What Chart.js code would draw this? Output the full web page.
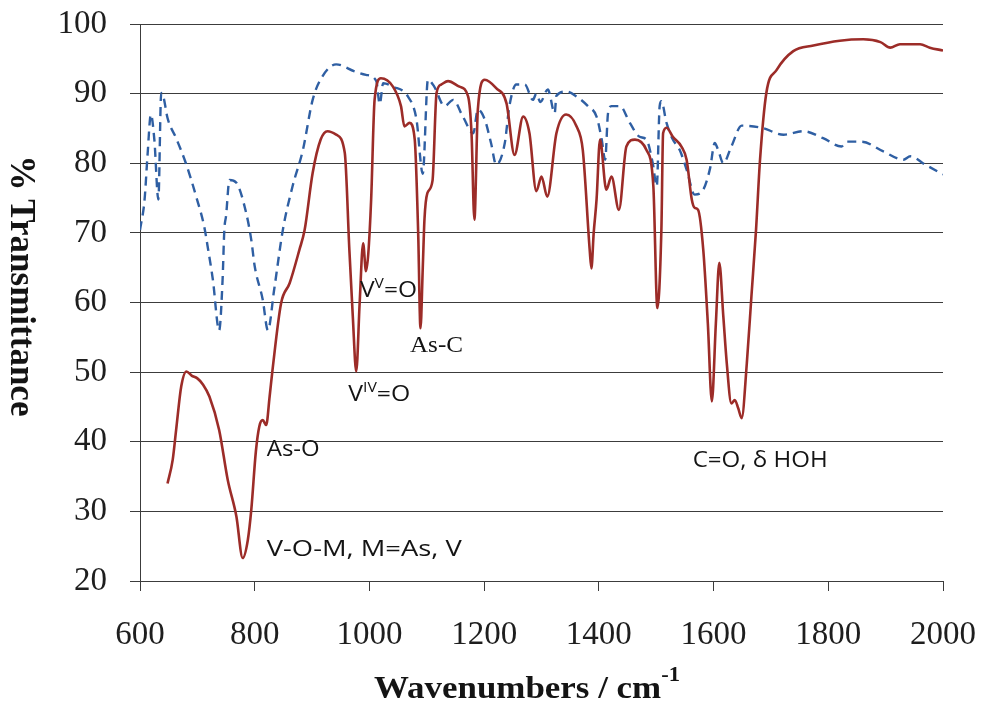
<!DOCTYPE html>
<html>
<head>
<meta charset="utf-8">
<script src="https://cdn.jsdelivr.net/npm/chart.js@4.4.1/dist/chart.umd.min.js"></script>
<style>
html,body{margin:0;padding:0;background:#fff;}
canvas{display:block;}
</style>
</head>
<body>
<canvas id="c" width="981" height="704"></canvas>
<script>
// ---- tick values ----
const xTickValues = [600, 800, 1000, 1200, 1400, 1600, 1800, 2000];
const yTickValues = [20, 30, 40, 50, 60, 70, 80, 90, 100];

// ---- series 1: solid red (wavenumber, % transmittance) ----
const redX = [648,657,663,672,681,690,700,710,721,738,753,768,779,788,794,802,808,814,820,826,831,846,861,878,887,901,915,927,942,957,965,971,977,983,989,994,998,1003,1009,1020,1041,1055,1061,1070,1079,1085,1089,1093,1096,1101,1110,1117,1125,1137,1157,1172,1178,1183,1189,1201,1221,1239,1253,1268,1279,1291,1300,1310,1326,1343,1361,1372,1384,1387,1391,1396,1402,1413,1422,1435,1448,1463,1483,1495,1502,1509,1512,1518,1529,1544,1553,1562,1567,1573,1582,1590,1597,1604,1610,1617,1623,1631,1637,1643,1649,1658,1666,1674,1681,1692,1710,1739,1774,1820,1861,1891,1908,1925,1960,1977,2000];
const redY = [34.0,37.4,41.7,48.0,50.1,49.5,49.1,48.2,46.5,41.7,34.5,29.3,23.3,25.9,30.2,38.6,42.2,43.1,42.4,46.5,50.3,59.9,62.8,67.6,70.4,78.6,83.4,84.6,84.1,81.5,67.6,58.0,50.1,60.0,68.5,64.5,67.0,74.8,89.1,92.2,91.0,88.2,85.3,85.8,83.4,70.0,56.3,65.0,72.0,75.7,77.5,90.1,91.3,91.8,91.0,89.6,84.3,71.9,87.7,92.0,90.8,88.6,81.2,86.7,84.3,76.0,78.1,75.2,84.3,87.0,85.3,81.9,67.6,64.9,70.0,74.8,83.4,76.2,78.1,73.3,82.4,83.4,81.9,76.7,59.2,70.4,84.3,85.1,83.8,82.4,80.5,74.8,73.6,73.3,67.6,57.0,45.8,57.0,65.7,58.0,51.3,45.5,46.0,44.8,43.4,51.3,60.9,70.4,80.5,90.1,93.4,96.1,96.9,97.6,97.8,97.4,96.6,97.1,97.1,96.6,96.2];

// ---- series 2: dashed blue ----
const blueX = [600,608,613,619,625,632,637,641,648,663,680,698,712,718,727,738,744,747,750,756,768,785,794,800,814,823,834,849,866,884,901,916,942,974,994,1012,1018,1024,1041,1067,1082,1093,1102,1113,1131,1146,1163,1181,1189,1201,1212,1221,1236,1244,1256,1271,1285,1291,1298,1311,1323,1326,1343,1361,1381,1396,1405,1411,1416,1422,1437,1454,1471,1483,1494,1501,1506,1509,1518,1529,1541,1553,1567,1582,1594,1602,1608,1617,1631,1649,1684,1722,1757,1791,1823,1832,1858,1896,1931,1943,1969,2000];
const blueY = [70.4,74.8,81.0,87.0,83.4,74.8,90.1,89.5,86.5,83.6,80.0,75.2,70.9,68.0,63.3,56.0,63.3,70.4,72.4,77.6,77.2,72.9,69.0,65.2,60.4,56.0,61.9,70.4,76.7,81.9,89.1,92.2,94.2,93.2,92.7,91.8,88.5,91.5,91.0,89.6,86.3,78.5,92.0,91.0,88.2,89.1,86.7,84.3,87.7,86.3,82.9,79.8,82.9,88.2,91.3,91.3,89.1,90.0,88.8,90.6,87.2,89.7,90.3,89.6,88.2,86.7,83.4,80.5,87.2,88.2,88.2,85.8,83.8,83.4,80.0,76.7,88.2,88.9,85.8,83.4,81.9,79.1,75.5,76.2,79.3,82.9,81.9,80.0,82.4,85.4,85.1,84.1,84.6,83.6,82.4,83.1,83.1,81.7,80.5,81.0,79.8,78.4];

// ---- text labels ----
const SANS = "'Open Sans'";
const SERIF = "'Liberation Serif'";
const annotations = [
  {x: 821, y: 23.6, width: 195, runs: [{t: 'V-O-M, M=As, V', font: '22px ' + SANS}]},
  {x: 821, y: 37.9, width: 53, runs: [{t: 'As-O', font: '22px ' + SANS}]},
  {x: 983.5, y: 60.8, width: 57, runs: [{t: 'V', font: '22px ' + SANS}, {t: 'V', font: '14px ' + SANS, dy: -9}, {t: '=O', font: '22px ' + SANS}]},
  {x: 963, y: 45.9, width: 62, runs: [{t: 'V', font: '22px ' + SANS}, {t: 'IV', font: '14px ' + SANS, dy: -9}, {t: '=O', font: '22px ' + SANS}]},
  {x: 1070.7, y: 52.85, width: 53, runs: [{t: 'As-C', font: '24px ' + SERIF}]},
  {x: 1563.6, y: 36.33, width: 135, runs: [{t: 'C=O, δ HOH', font: '22px ' + SANS}]}
];
const xTitleRuns = [{t: 'Wavenumbers / cm', font: 'bold 31px ' + SERIF}, {t: '-1', font: 'bold 20px ' + SERIF, dy: -17}];
const yTitleText = '% Transmittance';

function toPoints(xs, ys) { return xs.map((v, i) => ({x: v, y: ys[i]})); }

function drawRuns(ctx, runs, left, baseline, target) {
  let w = 0;
  runs.forEach(r => { ctx.font = r.font; w += ctx.measureText(r.t).width; });
  const sx = target ? target / w : 1;
  ctx.save();
  ctx.translate(left, baseline);
  ctx.scale(sx, 1);
  ctx.textAlign = 'left';
  ctx.textBaseline = 'alphabetic';
  let cx = 0;
  runs.forEach(r => {
    ctx.font = r.font;
    ctx.fillText(r.t, cx, r.dy || 0);
    cx += ctx.measureText(r.t).width;
  });
  ctx.restore();
}

const textPlugin = {
  id: 'textPlugin',
  afterDraw(chart) {
    const {ctx, scales} = chart;
    const xs = scales.x, ys = scales.y;
    ctx.save();
    ctx.fillStyle = '#141414';
    annotations.forEach(a => {
      drawRuns(ctx, a.runs, xs.getPixelForValue(a.x), ys.getPixelForValue(a.y), a.width);
    });
    // x axis title
    drawRuns(ctx, xTitleRuns, 374, 697.7, 306);
    // y axis title (reads top to bottom)
    ctx.save();
    ctx.translate(11, 286);
    ctx.rotate(Math.PI / 2);
    ctx.font = 'bold 35px ' + SERIF;
    ctx.textAlign = 'center';
    ctx.textBaseline = 'alphabetic';
    ctx.fillText(yTitleText, 0, 0);
    ctx.restore();
    ctx.restore();
  }
};

function noPad(s) { s.paddingTop = 0; s.paddingBottom = 0; s.paddingLeft = 0; s.paddingRight = 0; }

const GRID = '#3c3c3c';
new Chart(document.getElementById('c'), {
  type: 'line',
  data: {
    datasets: [
      {
        data: toPoints(redX, redY),
        borderColor: '#9c2c28',
        borderWidth: 2.6,
        pointRadius: 0,
        cubicInterpolationMode: 'monotone',
        fill: false
      },
      {
        data: toPoints(blueX, blueY),
        borderColor: '#2f5fa3',
        borderWidth: 2.4,
        borderDash: [9, 6],
        pointRadius: 0,
        cubicInterpolationMode: 'monotone',
        fill: false
      }
    ]
  },
  options: {
    responsive: false,
    animation: false,
    layout: {padding: {top: 24, right: 38, left: 0, bottom: 0}},
    plugins: {legend: {display: false}, tooltip: {enabled: false}, title: {display: false}},
    scales: {
      x: {
        type: 'linear', min: 600, max: 2000,
        afterFit(s) { s.height = 123; noPad(s); },
        afterBuildTicks(s) { s.ticks = xTickValues.map(v => ({value: v})); },
        ticks: {font: {family: 'Liberation Serif', size: 33}, color: '#1e1e1e', padding: 25, maxRotation: 0, autoSkip: false, callback: v => String(v)},
        grid: {drawOnChartArea: false, drawTicks: true, tickLength: 10, color: GRID, lineWidth: 1},
        border: {display: true, color: GRID, width: 1}
      },
      y: {
        type: 'linear', min: 20, max: 100,
        afterFit(s) { s.width = 140; noPad(s); },
        afterBuildTicks(s) { s.ticks = yTickValues.map(v => ({value: v})); },
        ticks: {font: {family: 'Liberation Serif', size: 33}, color: '#1e1e1e', padding: 23, callback: v => String(v)},
        grid: {color: GRID, lineWidth: 1, tickLength: 10},
        border: {display: true, color: GRID, width: 1}
      }
    }
  },
  plugins: [textPlugin]
});
</script>
</body>
</html>
